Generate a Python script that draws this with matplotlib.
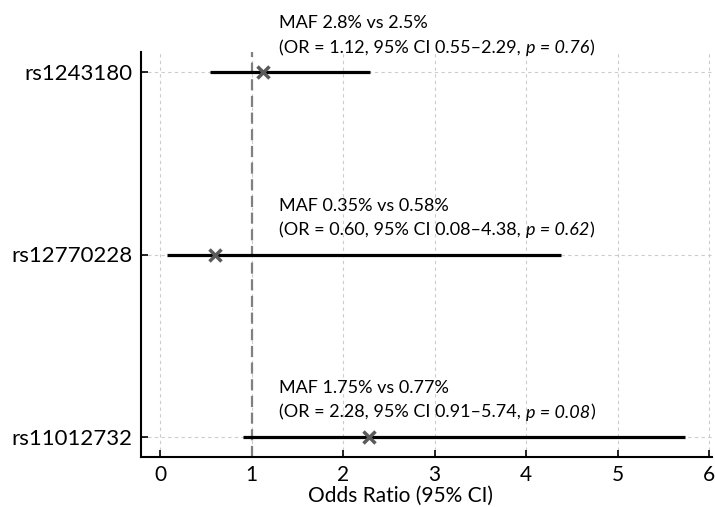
import matplotlib
matplotlib.use("Agg")
import matplotlib.pyplot as plt

snps = ["rs11012732", "rs12770228", "rs1243180"]
odds = [2.28, 0.60, 1.12]
ci_low = [0.91, 0.08, 0.55]
ci_high = [5.74, 4.38, 2.29]
maf = ["MAF 1.75% vs 0.77%", "MAF 0.35% vs 0.58%", "MAF 2.8% vs 2.5%"]
pvals = ["0.08", "0.62", "0.76"]
xticks = [0, 1, 2, 3, 4, 5, 6]

plt.rcParams['font.family'] = ['Lato', 'DejaVu Sans']

W, H = 715, 507
fig = plt.figure(figsize=(W / 100, H / 100), dpi=100)
left, right, top, bottom = 141, 712, 52, 457
ax = fig.add_axes([left / W, 1 - bottom / H, (right - left) / W, (bottom - top) / H])

ys = list(range(len(snps)))
FS = 13
for y, o, lo, hi, m, p in zip(ys, odds, ci_low, ci_high, maf, pvals):
    ax.plot([lo, hi], [y, y], color='black', lw=2.3, zorder=3, solid_capstyle='butt')
    ax.plot([o], [y], marker='x', color='#5a5a5a', ms=9, mew=2.5, zorder=4)
    ax.annotate(m, xy=(1.30, y), xytext=(0, 31.5), textcoords='offset points',
                fontsize=FS, ha='left', va='baseline', annotation_clip=False)
    t1 = ax.annotate(f"(OR = {o:.2f}, 95% CI {lo:.2f}\u2013{hi:.2f},", xy=(1.30, y),
                     xytext=(0, 13.7), textcoords='offset points',
                     fontsize=FS, ha='left', va='baseline', annotation_clip=False)
    t2 = ax.annotate(f"p = {p}", xy=(1, 0), xycoords=t1, xytext=(3.6, 0),
                     textcoords='offset points', fontsize=FS, style='italic',
                     ha='left', va='bottom')
    ax.annotate(")", xy=(1, 0), xycoords=t2, xytext=(0.5, 0),
                textcoords='offset points', fontsize=FS, ha='left', va='bottom')

ax.axvline(1, color='#808080', ls=(0, (5, 2.5)), lw=1.6, zorder=2)

ax.set_yticks(ys)
ax.set_yticklabels(snps, fontsize=16)
ax.set_xticks(xticks)
ax.set_xticklabels([str(t) for t in xticks], fontsize=15)
ax.set_xlim(-0.208, 6.03)
ax.set_ylim(-0.11, 2.11)
ax.set_xlabel("Odds Ratio (95% CI)", fontsize=15)
ax.xaxis.set_label_coords(0.4536, -0.072)

ax.grid(True, ls=(0, (3, 3)), color='#cccccc', lw=0.8, zorder=0)
ax.set_axisbelow(True)
for s in ['top', 'right']:
    ax.spines[s].set_visible(False)
ax.spines['left'].set_linewidth(1.5)
ax.spines['bottom'].set_linewidth(1.5)
ax.tick_params(axis='both', direction='in', length=5, width=1.2, pad=6)

fig.savefig("out.png", dpi=100)
